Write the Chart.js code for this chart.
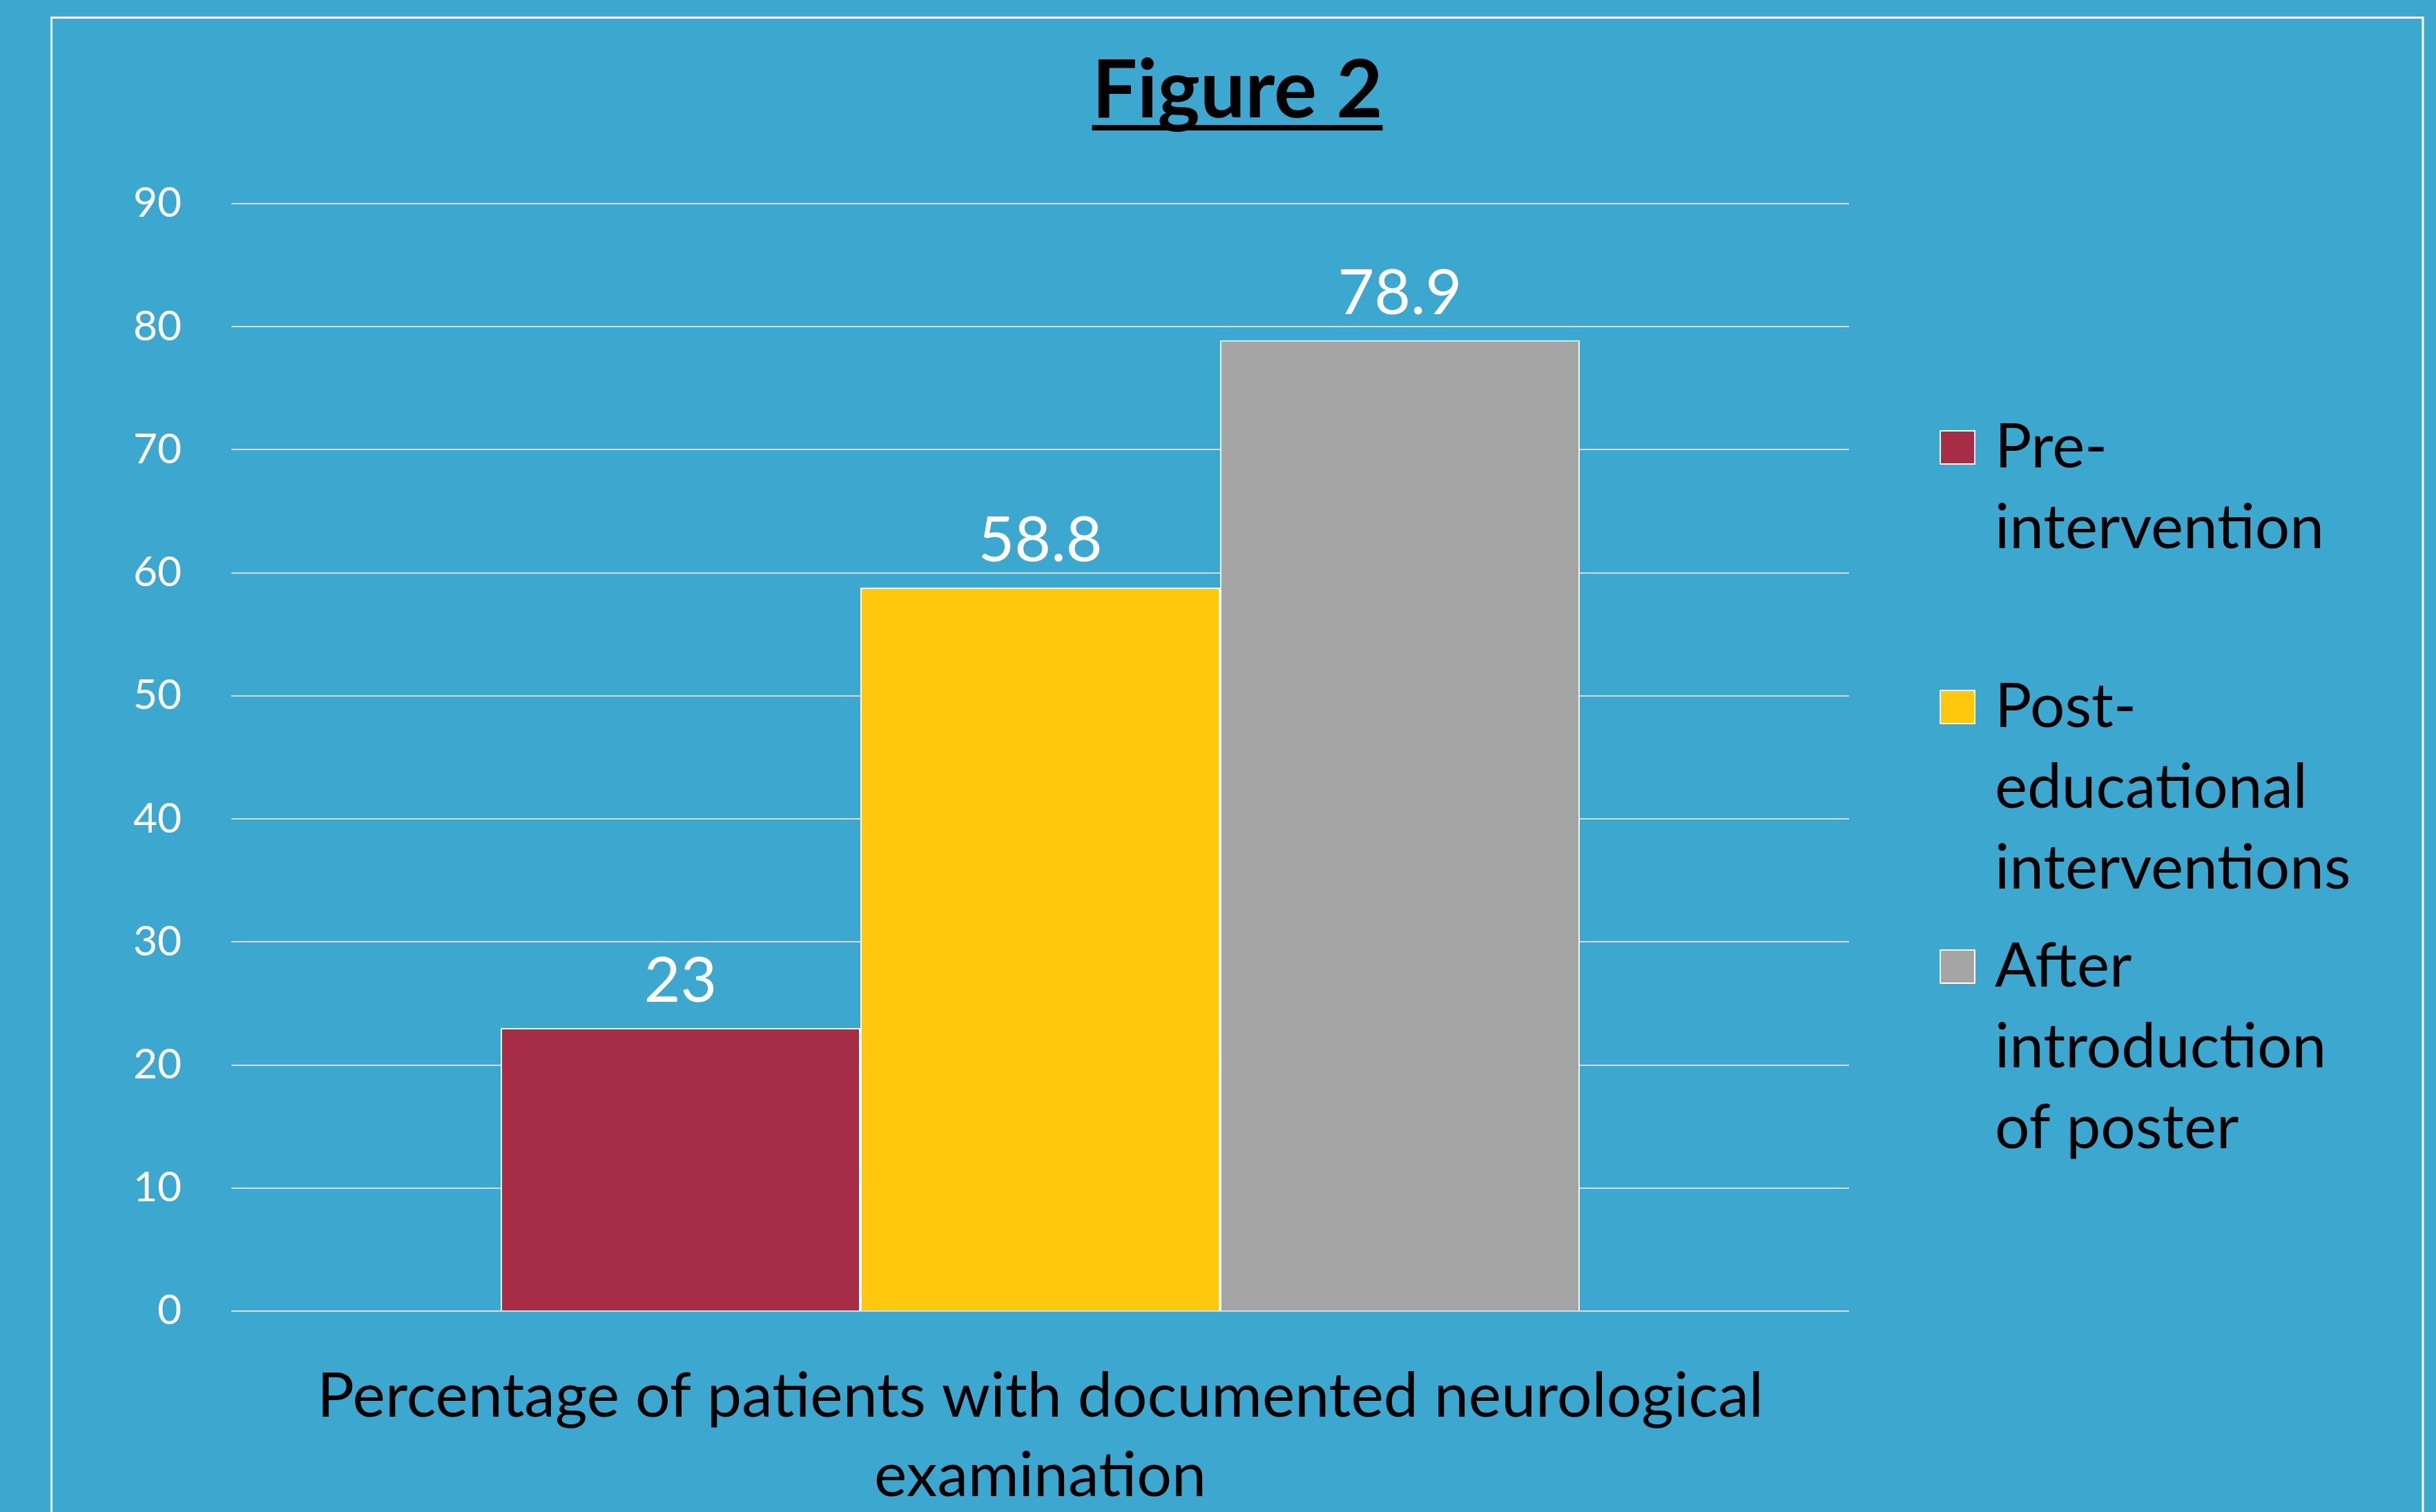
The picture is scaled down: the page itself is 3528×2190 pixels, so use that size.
<!DOCTYPE html>
<html>
<head>
<meta charset="utf-8">
<script src="https://cdn.jsdelivr.net/npm/chart.js@4/dist/chart.umd.min.js"></script>
<style>
  html, body { margin: 0; padding: 0; background: #3CA8CF; }
  #wrap { width: 3528px; height: 2190px; position: relative; }
</style>
</head>
<body>
<div id="wrap"><canvas id="c" width="3528" height="2190"></canvas></div>
<script>
// ---- data ----
const categories = [["Percentage of patients with documented neurological", "examination"]];
const seriesLabels = ["Pre-intervention", "Post-educational interventions", "After introduction of poster"];
const legendLines = [["Pre-", "intervention"], ["Post-", "educational", "interventions"], ["After", "introduction", "of poster"]];
const preValues = [23];
const postValues = [58.8];
const posterValues = [78.9];
const seriesColors = ["#A72C45", "#FFC80D", "#A5A5A5"];
const yTicks = [0, 10, 20, 30, 40, 50, 60, 70, 80, 90];
const titleText = "Figure 2";

// ---- font fitting ----
const FAMILY = "Lato, 'Open Sans', sans-serif";
const mctx = document.createElement('canvas').getContext('2d');
function fit(text, target, weight) {
  mctx.font = (weight || 'normal') + ' 100px ' + FAMILY;
  return 100 * target / mctx.measureText(text).width;
}
const titleSize = fit(titleText, 421, 'bold');
const tickSize = fit("90", 70);
const valueSize = fit("78.9", 180);
const catSize = fit(categories[0][0], 2095);
const legendSize = fit("intervention", 477);

const bgPlugin = {
  id: 'bg',
  beforeDraw(chart) {
    const ctx = chart.ctx;
    ctx.save();
    ctx.fillStyle = '#3CA8CF';
    ctx.fillRect(0, 0, chart.width, chart.height);
    ctx.strokeStyle = '#FFFFFF';
    ctx.lineWidth = 3;
    ctx.strokeRect(74.5, 25.5, 3509 - 74.5, 2300);
    ctx.restore();
  }
};

const overlayPlugin = {
  id: 'overlay',
  afterDatasetsDraw(chart) {
    const ctx = chart.ctx;
    ctx.save();
    // value labels
    ctx.fillStyle = '#FFFFFF';
    ctx.font = valueSize + 'px ' + FAMILY;
    ctx.textAlign = 'center';
    ctx.textBaseline = 'alphabetic';
    chart.data.datasets.forEach((ds, i) => {
      const meta = chart.getDatasetMeta(i);
      meta.data.forEach((bar, j) => {
        ctx.fillText(String(ds.data[j]), bar.x, bar.y - 38);
      });
    });
    // title
    ctx.fillStyle = '#000000';
    ctx.font = 'bold ' + titleSize + 'px ' + FAMILY;
    ctx.textAlign = 'center';
    const tx = 1792, ty = 170;
    ctx.fillText(titleText, tx, ty);
    const tw = ctx.measureText(titleText).width;
    ctx.fillRect(tx - tw / 2, 181, tw, 8);
    // legend
    ctx.textAlign = 'left';
    ctx.textBaseline = 'middle';
    ctx.font = legendSize + 'px ' + FAMILY;
    const firstY = [648, 1024, 1400];
    chart.data.datasets.forEach((ds, i) => {
      const y0 = firstY[i];
      ctx.fillStyle = ds.backgroundColor;
      ctx.fillRect(2810, y0 - 24, 50, 48);
      ctx.strokeStyle = '#FFFFFF';
      ctx.lineWidth = 2;
      ctx.strokeRect(2810, y0 - 24, 50, 48);
      ctx.fillStyle = '#000000';
      legendLines[i].forEach((ln, k) => {
        ctx.fillText(ln, 2889, y0 + k * 117);
      });
    });
    ctx.restore();
  }
};

const chart = new Chart(document.getElementById('c'), {
  type: 'bar',
  data: {
    labels: categories,
    datasets: [
      { label: seriesLabels[0], data: preValues, backgroundColor: seriesColors[0] },
      { label: seriesLabels[1], data: postValues, backgroundColor: seriesColors[1] },
      { label: seriesLabels[2], data: posterValues, backgroundColor: seriesColors[2] }
    ]
  },
  options: {
    responsive: false,
    animation: false,
    devicePixelRatio: 1,
    layout: { padding: { left: 0, right: 850, top: 295, bottom: 0 } },
    datasets: {
      bar: {
        categoryPercentage: 0.667,
        barPercentage: 1.0,
        borderColor: '#FFFFFF',
        borderWidth: 2
      }
    },
    plugins: {
      legend: { display: false },
      title: { display: false },
      tooltip: { enabled: false }
    },
    scales: {
      x: {
        grid: { display: false, drawTicks: false },
        border: { display: false },
        ticks: {
          color: '#000000',
          font: { family: FAMILY, size: catSize, lineHeight: '115px' },
          padding: 67,
          maxRotation: 0,
          autoSkip: false
        },
        afterFit(s) { s.height = 2190 - 1899; }
      },
      y: {
        min: 0,
        max: 90,
        afterBuildTicks(s) { s.ticks = yTicks.map(v => ({ value: v })); },
        grid: { color: '#D9D9D9', lineWidth: 2, drawTicks: false },
        border: { display: false },
        ticks: {
          color: '#FFFFFF',
          font: { family: FAMILY, size: tickSize },
          padding: 72
        },
        afterFit(s) { s.width = 335; }
      }
    }
  },
  plugins: [bgPlugin, overlayPlugin]
});
</script>
</body>
</html>
